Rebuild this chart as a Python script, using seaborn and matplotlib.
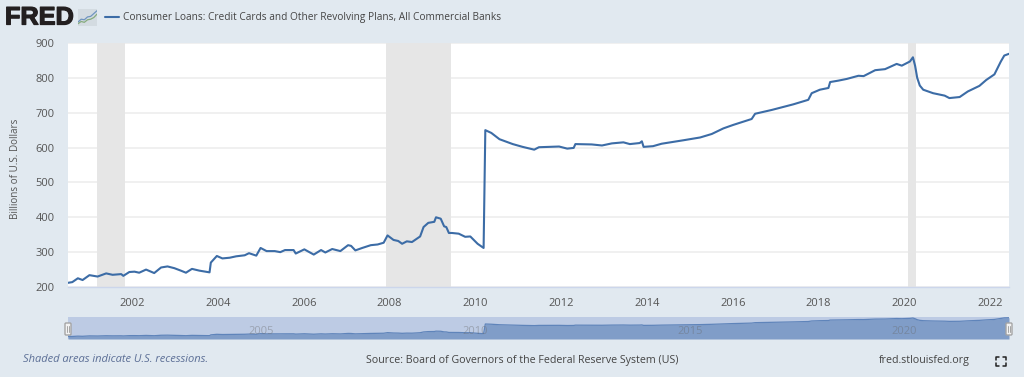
import matplotlib
matplotlib.use("Agg")
import matplotlib.pyplot as plt
import matplotlib.patheffects as pe
import pandas as pd
import seaborn as sns
from matplotlib.lines import Line2D
from matplotlib.patches import FancyBboxPatch

# values (decimal year, billions of dollars)
years = [2000.5, 2000.6, 2000.73, 2000.84, 2001.0, 2001.19, 2001.39, 2001.54, 2001.74, 2001.79,
         2001.93, 2002.05, 2002.16, 2002.32, 2002.51, 2002.67, 2002.82, 2002.98, 2003.13, 2003.25,
         2003.39, 2003.56, 2003.8, 2003.83, 2003.97, 2004.1, 2004.27, 2004.42, 2004.62, 2004.72,
         2004.89, 2004.99, 2005.13, 2005.32, 2005.45, 2005.56, 2005.76, 2005.81, 2006.01, 2006.23,
         2006.4, 2006.5, 2006.66, 2006.85, 2007.03, 2007.1, 2007.2, 2007.36, 2007.56, 2007.72,
         2007.86, 2007.95, 2008.09, 2008.2, 2008.29, 2008.4, 2008.52, 2008.71,
         2008.79, 2008.9, 2009.04, 2009.08, 2009.19, 2009.27, 2009.32, 2009.38, 2009.45, 2009.61,
         2009.76, 2009.88, 2010.05, 2010.19, 2010.23, 2010.37, 2010.56, 2010.87, 2011.1, 2011.37,
         2011.48, 2011.95, 2012.14, 2012.29, 2012.33, 2012.71, 2012.95, 2013.18, 2013.45, 2013.6,
         2013.83, 2013.88, 2013.92, 2014.14, 2014.34, 2014.85, 2015.24, 2015.51, 2015.78, 2016.01,
         2016.21, 2016.44, 2016.52, 2016.91, 2017.41, 2017.76, 2017.84, 2018.03, 2018.23,
         2018.27, 2018.46, 2018.66, 2018.93, 2019.05, 2019.32, 2019.55, 2019.82, 2019.94, 2020.13,
         2020.2, 2020.25, 2020.3, 2020.36, 2020.44, 2020.67, 2020.94, 2021.05, 2021.29, 2021.48,
         2021.75, 2021.91, 2022.1, 2022.25, 2022.33, 2022.44]
values = [212, 214, 225, 220, 234, 230, 239, 235, 237, 232,
          243, 244, 241, 250, 240, 256, 259, 254, 247, 241,
          252, 247, 242, 270, 289, 282, 284, 288, 291, 297,
          290, 312, 303, 303, 300, 306, 306, 296, 308, 293,
          306, 299, 309, 303, 320, 318, 305, 312, 320, 322,
          327, 348, 335, 332, 324, 331, 329, 345,
          372, 384, 387, 400, 396, 374, 372, 355, 355, 353,
          344, 345, 324, 312, 650, 642, 624, 610, 602, 594,
          601, 603, 597, 599, 610, 609, 606, 612, 615, 610,
          613, 618, 602, 604, 611, 621, 629, 639, 655, 665,
          673, 682, 697, 708, 724, 737, 756, 766, 771,
          788, 792, 797, 806, 805, 822, 825, 840, 835, 847,
          859, 835, 800, 778, 766, 756, 749, 742, 745, 761,
          777, 794, 810, 847, 864, 869]

recession_start = [2001.18, 2007.92, 2020.08]
recession_end = [2001.84, 2009.42, 2020.28]
x_ticks = [2002, 2004, 2006, 2008, 2010, 2012, 2014, 2016, 2018, 2020, 2022]
y_ticks = [200, 300, 400, 500, 600, 700, 800, 900]
nav_ticks = [2005, 2010, 2015, 2020]

# little logo graph
icon_x = [0, 1, 2, 3, 4, 5, 6]
icon_blue = [1.4, 2.4, 2.2, 3.2, 3.4, 4.4, 5.4]
icon_green = [0.8, 1.6, 1.3, 2.2, 2.4, 3.0, 4.2]

BG = "#e1e9f0"
LINE = "#3c6ca6"
TXT = "#555555"
W, H = 1024, 377

sns.set_theme(style="white")
plt.rcParams["font.family"] = ["Open Sans", "DejaVu Sans"]

df = pd.DataFrame({"year": years, "value": values})


def px_axes(fig, left, top, right, bottom):
    return fig.add_axes([left / W, 1 - bottom / H, (right - left) / W, (bottom - top) / H])


fig = plt.figure(figsize=(W / 100, H / 100), dpi=100, facecolor=BG)

# main chart
ax = px_axes(fig, 68, 43, 1009, 287)
ax.set_facecolor("white")
for a, b in zip(recession_start, recession_end):
    ax.axvspan(a, b, color="#e6e6e6", lw=0, zorder=1)
ax.grid(axis="y", color="#eeeeee", lw=1.2, zorder=0)
ax.set_axisbelow(True)
sns.lineplot(data=df, x="year", y="value", ax=ax, color=LINE, lw=1.5,
             estimator=None, sort=False, zorder=3)
ax.set_xlim(2000.5, 2022.44)
ax.set_ylim(200, 900)
ax.set_xticks(x_ticks)
ax.set_xticklabels([str(t) for t in x_ticks])
ax.set_yticks(y_ticks)
ax.set_xlabel("")
ax.set_ylabel("")
ax.tick_params(axis="x", length=4, width=0.8, color="#ccd6eb", labelsize=8, labelcolor=TXT, pad=4)
ax.tick_params(axis="y", length=0, labelsize=8, labelcolor=TXT, pad=9.5)
for name, sp in ax.spines.items():
    sp.set_visible(name == "bottom")
    sp.set_color("#ccd6eb")
    sp.set_linewidth(1)
fig.text(16 / W, 1 - 169 / H, "Billions of U.S. Dollars", rotation=90, fontsize=7.1,
         color=TXT, ha="center", va="center")

# range navigator under the chart
nav = px_axes(fig, 68, 317, 1009, 339)
nav.set_facecolor("#bdcbe4")
nav.fill_between(years, values, 125, color="#809dc8", lw=0, zorder=2)
sns.lineplot(data=df, x="year", y="value", ax=nav, color="#5f84ba", lw=0.9,
             estimator=None, sort=False, zorder=3)
nav.set_xlim(2000.5, 2022.44)
nav.set_ylim(125, 895)
nav.set_xticks([])
nav.set_yticks([])
nav.set_xlabel("")
nav.set_ylabel("")
for sp in nav.spines.values():
    sp.set_visible(False)
for t in nav_ticks:
    nav.text(t, 370, str(t), fontsize=8, color="#666666", ha="center", va="center",
             alpha=0.4, zorder=4)

# full figure layer for logo, legend, footer, handles
top = fig.add_axes([0, 0, 1, 1], facecolor="none", zorder=5)
top.set_xlim(0, W)
top.set_ylim(H, 0)
top.axis("off")

for hx in [68, 1009]:
    top.add_patch(FancyBboxPatch((hx - 3, 323), 6, 12, boxstyle="round,pad=0,rounding_size=1",
                                 fc="#f2f2f2", ec="#a5a5a5", lw=1))
    top.add_line(Line2D([hx - 1, hx - 1], [326, 332], color="#a5a5a5", lw=0.7))
    top.add_line(Line2D([hx + 1, hx + 1], [326, 332], color="#a5a5a5", lw=0.7))

top.text(5, 17.5, "FRED", fontsize=18.2, fontweight="bold", family="Liberation Sans",
         color="#231f20", ha="left", va="center",
         path_effects=[pe.withStroke(linewidth=0.9, foreground="#231f20")])

icon = px_axes(fig, 78, 9, 97, 26)
icon.set_facecolor("#d3dbe1")
sns.lineplot(x=icon_x, y=icon_blue, ax=icon, color="#6f94c0", lw=0.9)
sns.lineplot(x=icon_x, y=icon_green, ax=icon, color="#86ab7e", lw=0.9)
icon.set_xlim(0, 6)
icon.set_ylim(0, 6)
icon.set_xticks([])
icon.set_yticks([])
icon.set_xlabel("")
icon.set_ylabel("")
for sp in icon.spines.values():
    sp.set_visible(False)
icon.set_zorder(6)

top.add_line(Line2D([105, 119], [17, 17], color=LINE, lw=1.5))
top.text(123, 17.5, "Consumer Loans: Credit Cards and Other Revolving Plans, All Commercial Banks",
         fontsize=7.3, color="#444444", ha="left", va="center")

top.text(23, 360, "Shaded areas indicate U.S. recessions.", fontsize=8.05, style="italic",
         color="#5c6f96", ha="left", va="center")
top.text(366, 360, "Source: Board of Governors of the Federal Reserve System (US)", fontsize=7.7,
         color="#444444", ha="left", va="center")
top.text(879, 360, "fred.stlouisfed.org", fontsize=7.7, color="#444444", ha="left", va="center")

# fullscreen icon
for cx, cy, dx, dy in [(996, 357, 1, 1), (1006, 357, -1, 1), (996, 366, 1, -1), (1006, 366, -1, -1)]:
    top.add_line(Line2D([cx + 3 * dx, cx, cx], [cy, cy, cy + 3 * dy], color="#222222", lw=1.1))

fig.savefig("out.png", dpi=100, facecolor=BG)
